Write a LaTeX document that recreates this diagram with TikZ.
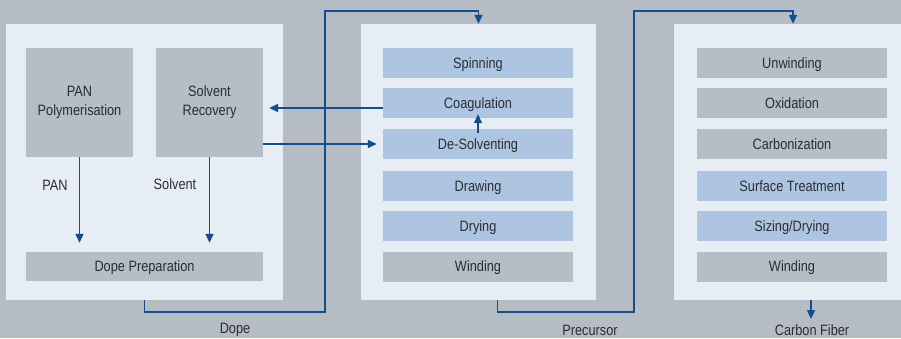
\documentclass[tikz,border=0pt]{standalone}
\usepackage{fontspec}
\setmainfont{Liberation Sans}[FakeStretch=0.85]
\usetikzlibrary{arrows.meta}
\definecolor{bg}{HTML}{B5BCC3}
\definecolor{panel}{HTML}{E7EDF5}
\definecolor{graybox}{HTML}{B3BEC6}
\definecolor{bluebox}{HTML}{AEC5E1}
\definecolor{lineblue}{HTML}{134D8B}
\definecolor{txt}{HTML}{2A2E33}
\tikzset{
  panelbox/.style={fill=panel, draw=none, minimum height=276pt, inner sep=0pt},
  gbox/.style={fill=graybox, draw=none, inner sep=0pt, text=txt, font=\fontsize{15}{19}\selectfont, align=center},
  bbox/.style={gbox, fill=bluebox},
  stagebox/.style={minimum width=190pt, minimum height=30pt, text height=10.5pt, text depth=0pt},
  arr/.style={draw=lineblue, line width=1.4pt, -{Triangle[width=8pt,length=9pt]}},
  lbl/.style={text=txt, font=\fontsize{15}{16}\selectfont, inner sep=0pt}
}
\begin{document}
\begin{tikzpicture}[x=1pt,y=-1pt]
\fill[bg] (0,0) rectangle (901,338);
\useasboundingbox (0,0) rectangle (901,338);
% panels
\node[panelbox, minimum width=277pt] (p1) at (144.5,162) {};
\node[panelbox, minimum width=235pt] (p2) at (478.5,162) {};
\node[panelbox, minimum width=227pt] (p3) at (787.5,162) {};
% panel 1
\node[gbox, minimum width=107pt, minimum height=109pt] (pan) at (79.5,102.5) {PAN\\Polymerisation};
\node[gbox, minimum width=107pt, minimum height=109pt] (solv) at (209.5,102.5) {Solvent\\Recovery};
\node[gbox, stagebox, minimum width=237pt, minimum height=29pt] (dope) at (144.5,266.5) {Dope Preparation};
% panel 2
\node[bbox, stagebox] (spin) at (478,63) {Spinning};
\node[bbox, stagebox] (coag) at (478,103) {Coagulation};
\node[bbox, stagebox] (desolv) at (478,144) {De-Solventing};
\node[bbox, stagebox] (draw) at (478,186) {Drawing};
\node[bbox, stagebox] (dry) at (478,226) {Drying};
\node[gbox, stagebox] (wind) at (478,266.5) {Winding};
% panel 3
\node[gbox, stagebox] (unw) at (792,63) {Unwinding};
\node[gbox, stagebox] (oxi) at (792,103) {Oxidation};
\node[gbox, stagebox] (carb) at (792,144) {Carbonization};
\node[bbox, stagebox] (surf) at (792,186) {Surface Treatment};
\node[bbox, stagebox] (size) at (792,226) {Sizing/Drying};
\node[gbox, stagebox] (wind2) at (792,266.5) {Winding};
% labels
\node[lbl] (lpan) at (55,185) {PAN};
\node[lbl] (lsolv) at (175,184) {Solvent};
\node[lbl] (ldope) at (235,330) {Dope};
\node[lbl] (lprec) at (590,330) {Precursor};
\node[lbl] (lcf) at (812,330) {Carbon Fiber};
% connectors panel 1
\draw[arr, shorten >=9pt] (pan.south) -- (pan.south |- dope.north);
\draw[arr, shorten >=9pt] (solv.south) -- (solv.south |- dope.north);
\draw[arr, shorten >=6pt] ([yshift=-5pt]coag.west) -- ([yshift=-5pt]coag.west -| solv.east);
\draw[arr, shorten >=6pt] (solv.east |- desolv.west) -- (desolv.west);
\draw[arr] ([yshift=-4pt]desolv.north) -- ([yshift=4pt]coag.south);
% dope line
\coordinate (d1) at (325,312);
\coordinate (d2) at (325,11);
\draw[arr] (p1.south) |- (d1) -- (d2) -| (p2.north);
% precursor line
\coordinate (q1) at (634,312);
\coordinate (q2) at (634,11);
\draw[arr] ([xshift=19pt]p2.south) |- (q1) -- (q2) -| ([xshift=5.5pt]p3.north);
% carbon fiber
\coordinate (cf) at (811,319);
\draw[arr] (p3.south -| cf) -- (cf);
\end{tikzpicture}
\end{document}
